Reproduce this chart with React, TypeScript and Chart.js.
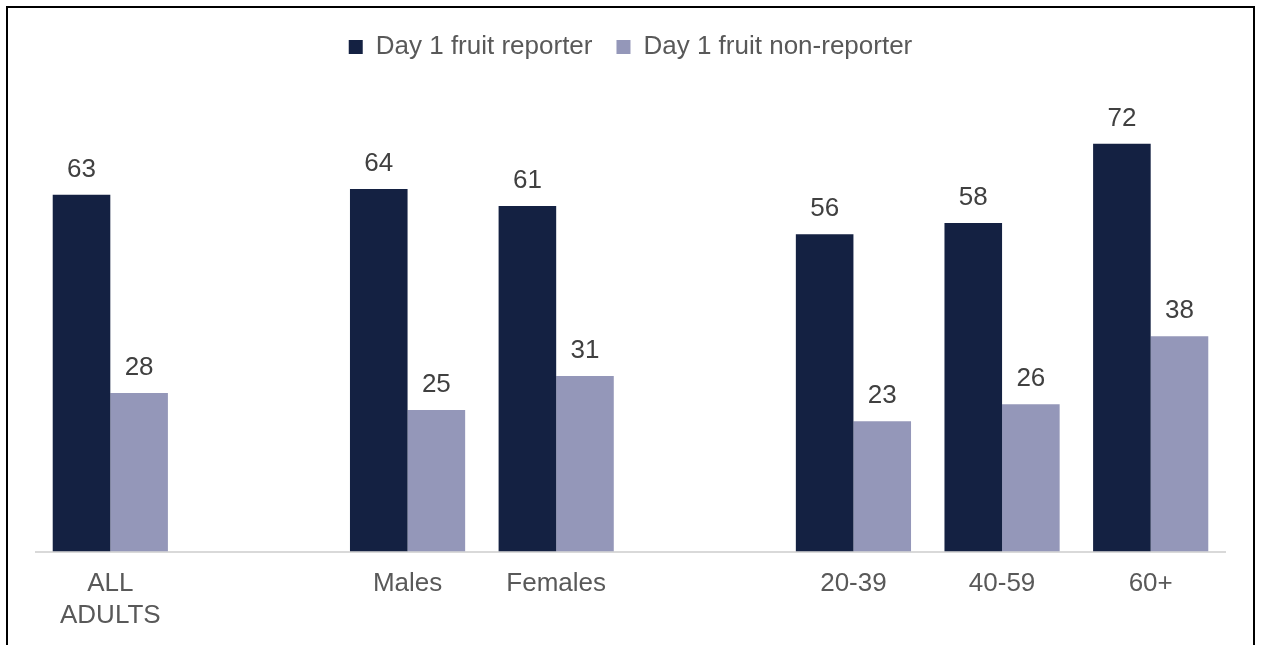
import React, { useEffect, useRef } from "react";
import { Chart, registerables } from "chart.js";

Chart.register(...registerables);

const categories: (string | string[])[] = [["ALL", "ADULTS"], "", "Males", "Females", "", "20-39", "40-59", "60+"];
const reporterValues: (number | null)[] = [63, null, 64, 61, null, 56, 58, 72];
const nonReporterValues: (number | null)[] = [28, null, 25, 31, null, 23, 26, 38];
const seriesNames = ["Day 1 fruit reporter", "Day 1 fruit non-reporter"];

const FONT = "'Liberation Sans', Arial, sans-serif";

const valueLabels = {
  id: "valueLabels",
  afterDatasetsDraw(chart: any) {
    const ctx = chart.ctx;
    ctx.save();
    ctx.font = `26px ${FONT}`;
    ctx.fillStyle = "#404040";
    ctx.textAlign = "center";
    ctx.textBaseline = "alphabetic";
    chart.data.datasets.forEach((ds: any, di: number) => {
      const meta = chart.getDatasetMeta(di);
      meta.data.forEach((bar: any, i: number) => {
        const v = ds.data[i];
        if (v === null || v === undefined) return;
        ctx.fillText(String(v), bar.x, bar.y - 18);
      });
    });
    ctx.restore();
  },
};

export default function App() {
  const ref = useRef<HTMLCanvasElement>(null);
  useEffect(() => {
    if (!ref.current) return;
    const chart = new Chart(ref.current, {
      type: "bar",
      data: {
        labels: categories,
        datasets: [
          {
            label: seriesNames[0],
            data: reporterValues,
            backgroundColor: "#142142",
            borderWidth: 0,
            categoryPercentage: 0.775,
            barPercentage: 1,
          },
          {
            label: seriesNames[1],
            data: nonReporterValues,
            backgroundColor: "#9497b9",
            borderWidth: 0,
            categoryPercentage: 0.775,
            barPercentage: 1,
          },
        ],
      },
      options: {
        animation: false,
        responsive: false,
        maintainAspectRatio: false,
        layout: { padding: { top: 2, left: 28, right: 28, bottom: 0 } },
        plugins: {
          tooltip: { enabled: false },
          legend: {
            position: "top",
            labels: {
              boxWidth: 14,
              boxHeight: 14,
              padding: 24,
              color: "#595959",
              font: { family: FONT, size: 26 },
            },
          },
        },
        scales: {
          x: {
            grid: { display: false, drawTicks: false },
            border: { display: true, color: "#d9d9d9", width: 2 },
            ticks: {
              color: "#595959",
              font: { family: FONT, size: 26 },
              padding: 17,
              maxRotation: 0,
              autoSkip: false,
            },
          },
          y: {
            display: false,
            min: 0,
            max: 85,
          },
        },
      },
      plugins: [valueLabels],
    });
    return () => chart.destroy();
  }, []);

  return (
    <div
      style={{
        position: "fixed",
        left: 6,
        top: 6,
        width: 1245,
        height: 660,
        border: "2px solid #000",
        background: "#fff",
      }}
    >
      <canvas ref={ref} width={1245} height={640} style={{ display: "block" }} />
    </div>
  );
}
